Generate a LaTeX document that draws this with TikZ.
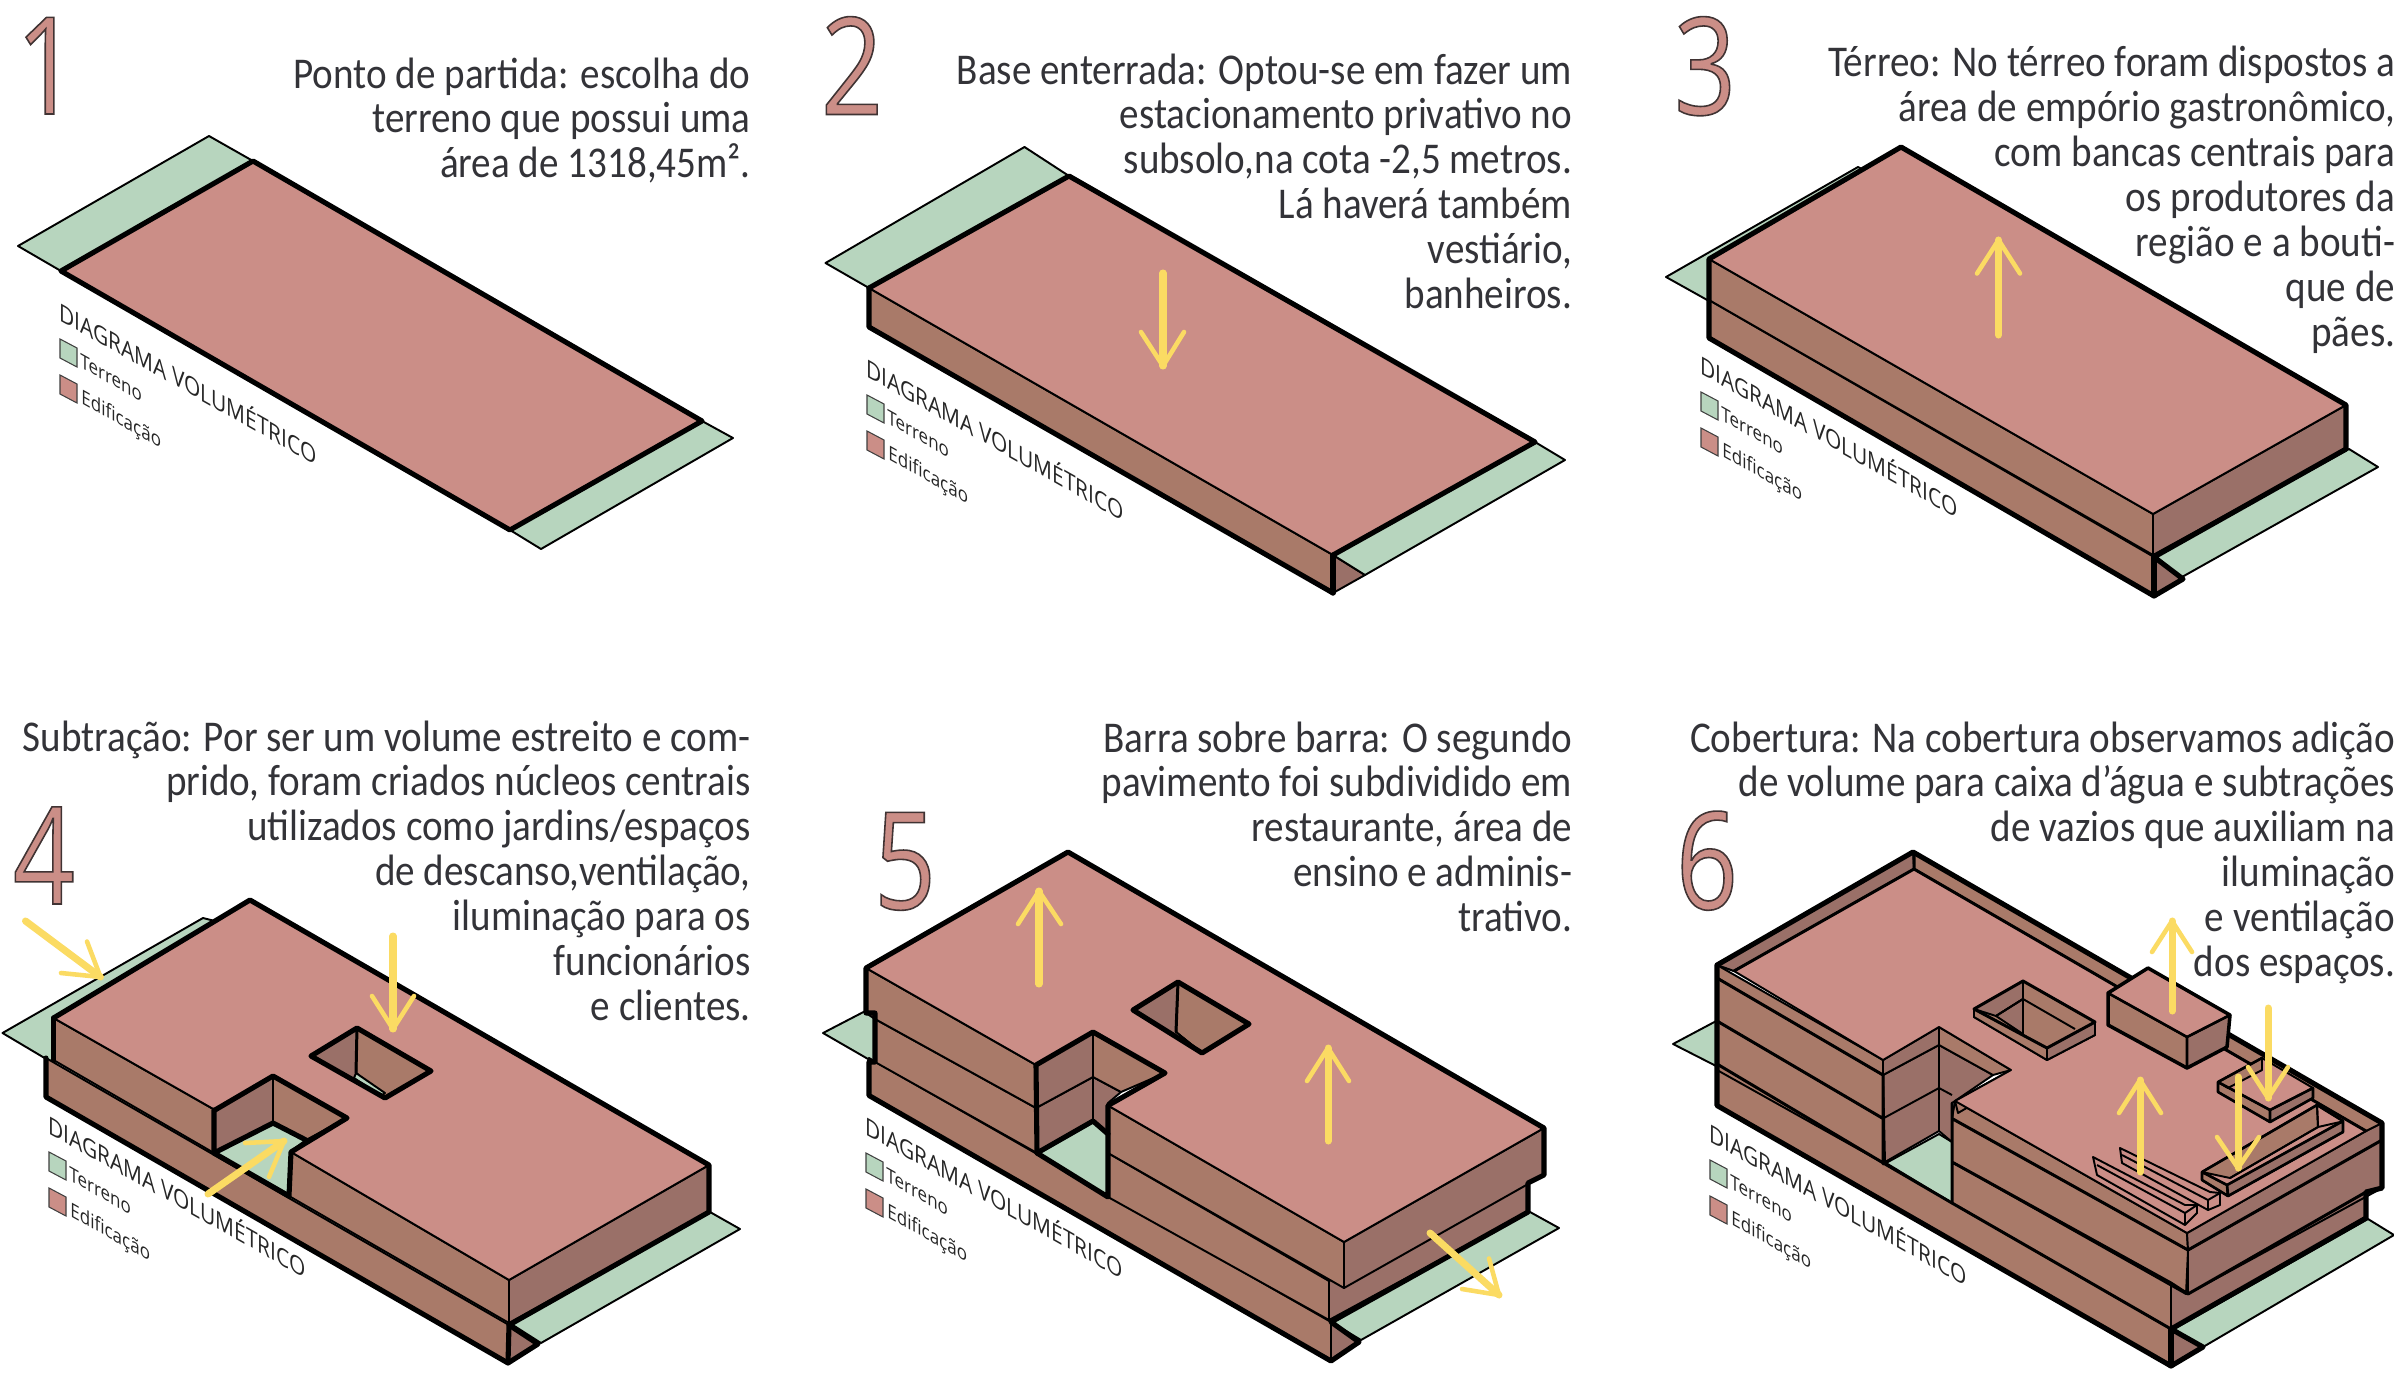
\documentclass[tikz,border=0pt]{standalone}
\usepackage{fontspec}
\setmainfont{Carlito}[FakeStretch=0.89]
\newfontfamily\numfont[FakeStretch=0.8]{Open Sans}
\newfontfamily\legfont[FakeStretch=0.85]{Open Sans}
\definecolor{roofc}{HTML}{CB8E87}
\definecolor{frontc}{HTML}{A97A69}
\definecolor{endc}{HTML}{9A7068}
\definecolor{grnc}{HTML}{B7D5BE}
\definecolor{yelc}{HTML}{FBDB63}
\definecolor{txtc}{HTML}{333338}
\tikzset{
 thk/.style={draw=black,line width=2.9pt,line join=round,line cap=round},
 thn/.style={draw=black,line width=1.1pt,line join=round},
 med/.style={draw=black,line width=1.7pt,line join=round,line cap=round},
 roof/.style={fill=roofc,thn},
 front/.style={fill=frontc,thn},
 endf/.style={fill=endc,thn},
 grn/.style={fill=grnc,thn},
 body/.style={inner sep=0pt,anchor=base east,text=txtc,font=\fontsize{25}{25.6}\selectfont},
 numb/.style={inner sep=0pt,anchor=base,text=roofc,font=\numfont\fontsize{77}{77}\selectfont},
 legbig/.style={inner sep=0pt,anchor=base west,yslant=-0.565,text=black!85,font=\legfont\fontsize{14}{15}\selectfont},
 legsmall/.style={inner sep=0pt,anchor=base west,yslant=-0.565,text=black!85,font=\legfont\fontsize{11.4}{12}\selectfont},
 yshaft/.style={draw=yelc,line width=4pt,line cap=round,line join=round},
 ybarb/.style={draw=yelc,line width=2.6pt,line cap=round,line join=round},
}
\newcommand\txtblock[1]{\vtop{\halign{\hfill##\cr#1\crcr}}}
\newcommand\outl[1]{\special{pdf:code 2 Tr 0.9 w 0.25 0.2 0.2 RG}#1\special{pdf:code 0 Tr}}
\newcommand\yarrow[8]{%
 \draw[yshaft] (#1,#2)--(#3,#4);
 \draw[ybarb] (#5,#6)--(#3,#4)--(#7,#8);}
\newcommand\volleg[3]{%
 \begin{scope}[shift={(#2,#3)}]
 \node[legbig] (dv#1) at (0,0) {DIAGRAMA VOLUMÉTRICO};
 \path[fill=grnc,draw=black!75,line width=0.6pt] (1,19)--(18,28)--(18,47)--(1,38)--cycle;
 \path[fill=roofc,draw=black!75,line width=0.6pt] (1,55)--(18,64)--(18,83)--(1,74)--cycle;
 \node[legsmall] (lt#1) at (21,47) {Terreno};
 \node[legsmall] (le#1) at (22,83) {Edificação};
 \end{scope}}
\begin{document}
\begin{tikzpicture}[x=0.02cm,y=-0.02cm]
\useasboundingbox (0,0) rectangle (2394,1380);
\fill[white] (0,0) rectangle (2394,1380);
% ---------- numbers
\node[numb] (n1) at (47,114) {\outl{1}};
\node[numb] (n2) at (852,114.5) {\outl{2}};
\node[numb] (n3) at (1705,114.5) {\outl{3}};
\node[numb] (n4) at (44,904) {\outl{4}};
\node[numb] (n5) at (905,909) {\outl{5}};
\node[numb] (n6) at (1707,909) {\outl{6}};
% ---------- texts
\node[body] (t1) at (751,88) {\txtblock{Ponto de partida: escolha do\cr terreno que possui uma\cr área de 1318,45m².\cr}};
\node[body] (t2) at (1572.5,84) {\txtblock{Base enterrada: Optou-se em fazer um\cr estacionamento privativo no\cr subsolo,na cota -2,5 metros.\cr Lá haverá também\cr vestiário,\cr banheiros.\cr}};
\node[body] (t3) at (2395.5,76.5) {\txtblock{Térreo: No térreo foram dispostos a\cr área de empório gastronômico,\cr com bancas centrais para\cr os produtores da\cr região e a bouti-\cr que de\cr pães.\cr}};
\node[body] (t4) at (751,751) {\txtblock{Subtração: Por ser um volume estreito e com-\cr prido, foram criados núcleos centrais\cr utilizados como jardins/espaços\cr de descanso,ventilação,\cr iluminação para os\cr funcionários\cr e clientes.\cr}};
\node[body] (t5) at (1572.5,752) {\txtblock{Barra sobre barra: O segundo\cr pavimento foi subdividido em\cr restaurante, área de\cr ensino e adminis-\cr trativo.\cr}};
\node[body] (t6) at (2395.5,752) {\txtblock{Cobertura: Na cobertura observamos adição\cr de volume para caixa d’água e subtrações\cr de vazios que auxiliam na\cr iluminação\cr e ventilação\cr dos espaços.\cr}};
% ---------- legends
\volleg{a}{59}{320}
\volleg{b}{866}{376}
\volleg{c}{1700}{373}
\volleg{d}{48}{1133}
\volleg{e}{865}{1134}
\volleg{f}{1709}{1141}
% ---------- panel 1
\path[grn] (209,136)--(18,246)--(61,271)--(253,161)--cycle;
\path[grn] (702,421)--(733,438)--(541,549)--(510,530)--cycle;
\path[fill=roofc] (253,161)--(702,421)--(510,530)--(61,271)--cycle;
\draw[thk] (253,161)--(702,421)--(510,530)--(61,271)--cycle;
% ---------- panel 2
\path[grn] (1024.5,147)--(825.5,263)--(869,288)--(1069,176)--cycle;
\path[endf] (1333,555)--(1333,593)--(1365,575)--cycle;
\path[grn] (1535,442)--(1565,460)--(1365,575)--(1333,555)--cycle;
\path[front] (869,288)--(1333,555)--(1333,593)--(869,327)--cycle;
\path[roof] (1069,176)--(1535,442)--(1333,555)--(869,288)--cycle;
\draw[thk] (869,288)--(869,327)--(1333,593);
\draw[thk] (869,288)--(1069,176)--(1535,442)--(1333,555);
\draw[thk] (1333,555)--(1333,593);
\yarrow{1163}{273}{1163}{366}{1141}{332}{1184}{332}
% ---------- panel 3
\path[grn] (1858,167)--(1666,277)--(1709,301)--(1902,190)--cycle;
\path[endf] (2154,557)--(2154,596)--(2183,579)--cycle;
\path[grn] (2349,449)--(2378,467)--(2182,577)--(2154,557)--cycle;
\path[front] (1709,300)--(2154,557)--(2154,596)--(1709,338)--cycle;
\path[endf] (2153,514)--(2346,405)--(2346,449)--(2153,555)--cycle;
\path[front] (1709,259)--(2153,514)--(2153,555)--(1709,300)--cycle;
\path[roof] (1901,147)--(2346,405)--(2153,514)--(1709,259)--cycle;
\draw[thk] (1709,259)--(1901,147)--(2346,405)--(2346,449)--(2154,557)--(2183,579)--(2154,596)--(1709,338)--cycle;
\draw[thk] (2154,557)--(2154,596);
\yarrow{1998.5}{335}{1998.5}{240}{1977}{273.5}{2020}{273.5}
% ---------- panel 4
\path[grn] (203,918)--(2.5,1033)--(53,1063)--(250,930)--cycle;
\path[endf] (509,1325)--(508,1363)--(538,1344)--cycle;
\path[grn] (710,1212)--(740,1229)--(541,1343)--(512,1324.5)--cycle;
\path[front] (46,1058)--(509,1325)--(508,1363)--(46,1097)--cycle;
\path[endf] (509,1280)--(709,1165)--(709,1212)--(509,1323)--cycle;
\path[front] (53.5,1018)--(215,1110)--(214,1153)--(53.5,1060)--cycle;
\path[front] (291,1152)--(509,1280)--(509,1323)--(289,1196)--cycle;
\path[grn] (214,1153)--(273,1123)--(306,1140)--(291,1151)--(288,1196)--cycle;
\path[endf] (215,1110)--(273,1076)--(273,1123)--(214,1153)--cycle;
\path[front] (273,1076)--(347,1118)--(306,1140)--(273,1123)--cycle;
\path[roof] (250,900)--(709,1165)--(509,1280)--(291,1152)--(347,1118)--(273,1076)--(215,1110)--(53.5,1018)--cycle;
\path[front] (357,1028)--(431,1071)--(385,1098)--(356,1073)--cycle;
\path[endf] (311,1056)--(357,1028)--(356,1073)--(385,1098)--cycle;
\path[grn] (356,1073)--(385,1093)--(381,1096)--(354,1078)--cycle;
\draw[med] (357,1028)--(356,1073);
\draw[thk] (357,1028)--(431,1071)--(385,1098)--(311,1056)--cycle;
\draw[thk] (53.5,1018)--(250,900)--(709,1165)--(709,1212)--(509,1325)--(538,1344)--(508,1363)--(46,1097)--(46,1058);
\draw[thk] (53.5,1018)--(53.5,1060);
\draw[thk] (509,1325)--(508,1363);
\draw[thk] (214,1110)--(214,1153)--(273,1123)--(306,1140);
\draw[thk] (215,1110)--(273,1076)--(347,1118)--(291,1152)--(289,1196)--(214,1153);
\yarrow{25.5}{921}{100.5}{977}{87}{941.5}{61}{973}
\yarrow{393}{936}{393}{1029}{372}{996}{414}{996}
\yarrow{208}{1194}{284}{1141}{245}{1143}{269}{1177}
% ---------- panel 5
\path[grn] (875,1006)--(823,1033)--(875,1063)--cycle;
\path[endf] (1331,1322)--(1331,1361)--(1359,1342)--cycle;
\path[grn] (1530,1212)--(1559,1228)--(1361,1340)--(1331,1322)--cycle;
\path[front] (869,1058)--(1331,1322)--(1331,1361)--(869,1095.5)--cycle;
\path[endf] (1329,1281)--(1528,1183)--(1528,1212)--(1329,1320)--cycle;
\path[front] (875,1019)--(1036,1108)--(1037,1153)--(875,1062)--cycle;
\path[front] (1108,1153)--(1329,1281)--(1329,1320)--(1108,1197)--cycle;
\path[endf] (1344,1242)--(1544,1128)--(1544,1175)--(1344,1288)--cycle;
\path[front] (866,968)--(1036,1065)--(1036,1108)--(875,1019)--(866,1013)--cycle;
\path[front] (1108,1105.5)--(1344,1242)--(1344,1288)--(1108,1153)--cycle;
\path[grn] (1037,1153)--(1093,1121)--(1108,1134)--(1108,1197)--cycle;
\path[endf] (1036,1108)--(1093,1077)--(1093,1121)--(1037,1153)--cycle;
\path[endf] (1036,1065)--(1093,1032)--(1093,1077)--(1036,1108)--cycle;
\path[endf] (1093,1077)--(1121,1092)--(1108,1103)--(1108,1134)--(1093,1121)--cycle;
\path[front] (1093,1032)--(1165,1073)--(1121,1092)--(1093,1077)--cycle;
\path[roof] (1068,852)--(1544,1128)--(1344,1242)--(1108,1105.5)--(1165,1073)--(1093,1032)--(1036,1065)--(866,968)--cycle;
\path[front] (1178,982)--(1249,1024)--(1202,1053)--(1176,1032)--cycle;
\path[endf] (1133,1010)--(1178,982)--(1176,1032)--(1202,1053)--cycle;
\draw[med] (1178,982)--(1176,1032);
\draw[thk] (1178,982)--(1249,1024)--(1202,1053)--(1133,1010)--cycle;
\draw[thk] (866,1013)--(866,968)--(1068,852)--(1544,1128)--(1544,1175)--(1528,1183)--(1528,1212)--(1331,1322)--(1359,1342)--(1331,1361)--(869,1095.5)--(869,1062)--(875,1062)--(875,1013)--cycle;
\draw[thk] (1036,1065)--(1093,1032)--(1165,1073)--(1108,1105.5)--(1108,1197)--(1037,1153)--(1036,1065);
\draw[thk] (1037,1153)--(1093,1121)--(1108,1134);
\yarrow{1039}{984}{1039}{891}{1018}{924}{1061}{924}
\yarrow{1328}{1141}{1328}{1048}{1307}{1081}{1349}{1081}
\yarrow{1430}{1233}{1499}{1295}{1489}{1258.5}{1462}{1289}
% ---------- panel 6
\path[grn] (1720,1019)--(1673,1044)--(1722,1069)--cycle;
\path[endf] (2171,1329)--(2171,1366)--(2203,1347)--cycle;
\path[grn] (2368,1219)--(2394,1235)--(2203,1347)--(2174,1329)--cycle;
\path[front] (1717,1064)--(2171,1329)--(2171,1366)--(1717,1105.5)--cycle;
\path[endf] (2171,1283)--(2366,1192)--(2366,1218)--(2171,1329)--cycle;
\path[front] (1717,1021)--(1883,1118.5)--(1885,1164)--(1717,1070)--cycle;
\path[front] (1952,1162)--(2171,1283)--(2171,1329)--(1952,1203)--cycle;
\path[endf] (2188,1250)--(2382,1140)--(2382,1188)--(2188,1294)--cycle;
\path[front] (1717,978)--(1883,1075)--(1883,1118.5)--(1717,1021)--cycle;
\path[front] (1952,1118.5)--(2188,1250)--(2186,1294)--(1952,1162)--cycle;
\path[front] (1717,965)--(1883,1060)--(1883,1075)--(1717,978)--cycle;
\path[front] (1955,1101)--(2187,1233)--(2188,1250)--(1952,1118.5)--cycle;
\path[endf] (2187,1233)--(2366,1131)--(2382,1123)--(2382,1140)--(2188,1250)--cycle;
\path[grn] (1886,1163)--(1939,1134)--(1952,1142)--(1952,1203)--cycle;
\path[endf] (1883,1075)--(1939,1045)--(1939,1131)--(1885,1162)--cycle;
\path[endf] (1939,1045)--(1993,1075)--(1952,1103)--(1952,1142)--(1939,1131)--cycle;
\draw[thn] (1883,1118.5)--(1939,1088)--(1952,1095);
\path[endf] (1883,1060)--(1939,1027)--(1939,1045)--(1883,1075)--cycle;
\path[front] (1939,1027)--(2011,1070)--(1993,1075)--(1939,1045)--cycle;
\path[front] (2011,1070)--(2011,1082)--(1958,1113)--(1955,1101)--cycle;
\path[front] (1717,965)--(1913,852)--(2382,1123)--(2366,1131)--(1914,869)--(1734,971)--cycle;
\path[endf] (1717,965)--(1913,852)--(1914,869)--(1734,971)--cycle;
\path[roof] (1914,869)--(2366,1131)--(2187,1233)--(1955,1101)--(2011,1070)--(1939,1027)--(1883,1060)--(1734,971)--cycle;
\draw[med] (1734,971)--(1914,869)--(2366,1131) (1914,852)--(1914,869);
\draw[thk] (1717,965)--(1913,852)--(2382,1123)--(2382,1188)--(2366,1192)--(2366,1218)--(2171,1329)--(2203,1347)--(2171,1366)--(1717,1105.5)--(1717,965);
\draw[thk] (2171,1329)--(2171,1366);
\draw[med] (1717,978)--(1883,1075)--(1883,1164) (1717,1021)--(1883,1118.5) (1717,1064)--(1885,1164)--(1952,1203);
\draw[med] (1952,1103)--(1952,1203) (1952,1118.5)--(2188,1250)--(2382,1140) (1952,1162)--(2171,1283) (2188,1294)--(2171,1283) (2188,1294)--(2366,1192);
\draw[med] (2171,1329)--(1952,1203);
% hole in roof
\path[front] (2023,981)--(2095,1022)--(2095,1035)--(2047,1060)--(1974,1017)--(1974,1009)--cycle;
\path[endf] (2095,1022)--(2095,1035)--(2047,1060)--(2047,1048)--cycle;
\path[front] (1974,1009)--(2047,1048)--(2047,1060)--(1974,1017)--cycle;
\path[endf] (1974,1009)--(2023,981)--(2023,999)--(1996,1016)--cycle;
\path[endf] (1996,1016)--(2023,999)--(2023,1034)--cycle;
\draw[med] (2023,981)--(2095,1022)--(2047,1048)--(1974,1009)--cycle;
\draw[thn] (2023,999)--(2075,1029) (1996,1016)--(2023,999)--(2023,1034) (2023,981)--(2023,999);
% water box
\path[front] (2108,993)--(2187,1037)--(2187,1068)--(2108,1025)--cycle;
\path[endf] (2187,1037)--(2230,1015)--(2227,1047)--(2187,1068)--cycle;
\path[roof] (2108,993)--(2148,968)--(2230,1015)--(2187,1037)--cycle;
\draw[thk,line width=2pt] (2108,993)--(2148,968)--(2230,1015)--(2227,1047)--(2187,1068)--(2108,1025)--cycle;
\draw[med,line width=1.5pt] (2108,993)--(2187,1037)--(2230,1015) (2187,1037)--(2187,1068);
% tray 1
\path[front] (2218,1082)--(2270,1110)--(2270,1122)--(2218,1092)--cycle;
\path[endf] (2270,1110)--(2313,1088)--(2313,1098)--(2270,1122)--cycle;
\path[roof] (2218,1082)--(2262,1058)--(2313,1088)--(2270,1110)--cycle;
\path[front] (2218,1082)--(2262,1058)--(2262,1070)--(2228,1088)--cycle;
\draw[med,line width=1.5pt] (2218,1082)--(2262,1058) (2218,1082)--(2270,1110)--(2313,1088)--(2313,1098)--(2270,1122)--(2218,1092)--cycle (2270,1110)--(2270,1122);
% tray 2
\path[roof] (2202,1172)--(2317,1105)--(2343,1121)--(2343,1132)--(2228,1196)--(2202,1180)--cycle;
\path[front] (2202,1172)--(2317,1105)--(2318,1127)--(2230,1178)--cycle;
\path[front] (2202,1172)--(2227,1185)--(2228,1196)--(2202,1180)--cycle;
\path[endf] (2227,1185)--(2343,1121)--(2343,1132)--(2228,1196)--cycle;
\draw[med,line width=1.5pt] (2202,1172)--(2317,1105)--(2343,1121)--(2343,1132)--(2228,1196)--(2202,1180)--cycle (2227,1185)--(2343,1121) (2227,1185)--(2202,1172) (2227,1185)--(2228,1196);
\draw[thn] (2230,1178)--(2318,1127)--(2317,1105) (2318,1127)--(2340,1122);
% benches
\path[roof] (2120,1148)--(2210,1192)--(2220,1193)--(2220,1205)--(2208,1210)--(2122,1163)--cycle;
\draw[thn] (2122,1155)--(2208,1200)--(2208,1210) (2208,1200)--(2220,1193);
\path[roof] (2093,1157)--(2185,1205)--(2197,1205)--(2197,1213)--(2185,1225)--(2097,1175)--cycle;
\draw[thn] (2097,1165)--(2185,1213)--(2185,1225) (2185,1213)--(2197,1205);
\yarrow{2172}{1011}{2172}{921}{2152}{952}{2192}{952}
\yarrow{2268}{1008}{2268}{1098}{2248}{1067}{2288}{1067}
\yarrow{2238}{1077}{2238}{1168}{2217}{1137}{2259}{1137}
\yarrow{2140}{1172}{2140}{1080}{2119}{1113}{2161}{1113}
\end{tikzpicture}
\end{document}
